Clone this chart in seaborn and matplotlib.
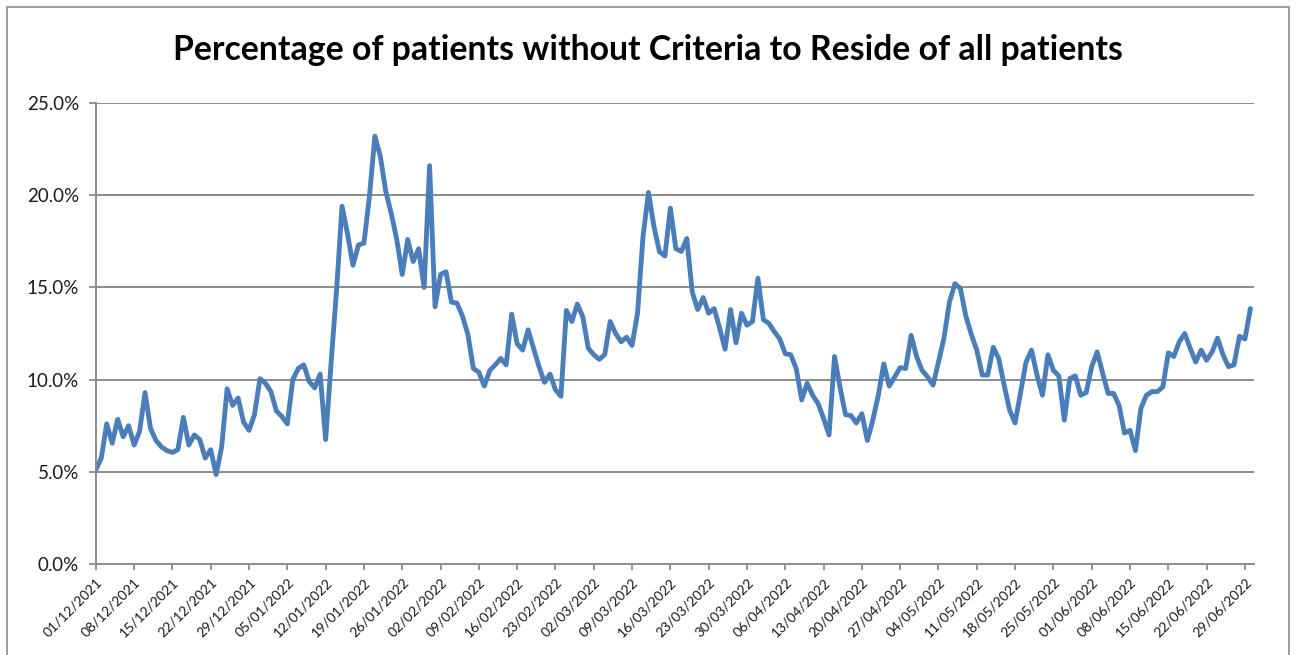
import numpy as np
import pandas as pd
import matplotlib
matplotlib.use("Agg")
import matplotlib.pyplot as plt
import matplotlib.dates as mdates
from matplotlib.patches import Rectangle
from matplotlib.ticker import PercentFormatter, MultipleLocator
import seaborn as sns

# daily % of patients without criteria to reside, 01/12/2021 onwards
start_date = "2021-12-01"
pct_no_ctr = [
    5.1, 5.75, 7.6, 6.55, 7.85, 6.9, 7.5, 6.45, 7.2, 9.3,
    7.35, 6.7, 6.35, 6.15, 6.05, 6.2, 7.95, 6.45, 7.0, 6.75,
    5.75, 6.2, 4.85, 6.35, 9.5, 8.6, 9.0, 7.7, 7.25, 8.1,
    10.05, 9.8, 9.35, 8.3, 8.0, 7.6, 10.0, 10.6, 10.8, 9.9,
    9.55, 10.3, 6.75, 10.9, 14.85, 19.4, 17.9, 16.2, 17.3, 17.4,
    19.9, 23.2, 22.1, 20.2, 19.0, 17.6, 15.7, 17.6, 16.4, 17.1,
    15.0, 21.6, 13.95, 15.7, 15.85, 14.2, 14.15, 13.45, 12.45, 10.6,
    10.4, 9.65, 10.5, 10.8, 11.15, 10.8, 13.55, 11.95, 11.6, 12.7,
    11.7, 10.7, 9.85, 10.3, 9.45, 9.1, 13.75, 13.15, 14.1, 13.4,
    11.7, 11.35, 11.1, 11.35, 13.15, 12.5, 12.05, 12.3, 11.85, 13.6,
    17.75, 20.15, 18.3, 16.95, 16.7, 19.3, 17.1, 16.95, 17.65, 14.75,
    13.8, 14.45, 13.6, 13.85, 12.8, 11.65, 13.8, 12.0, 13.6, 12.95,
    13.15, 15.5, 13.25, 13.05, 12.6, 12.2, 11.4, 11.35, 10.6, 8.9,
    9.8, 9.15, 8.7, 7.9, 7.0, 11.25, 9.6, 8.1, 8.05, 7.65,
    8.15, 6.7, 7.8, 9.15, 10.85, 9.65, 10.15, 10.65, 10.6, 12.4,
    11.25, 10.5, 10.15, 9.7, 10.95, 12.25, 14.2, 15.2, 14.95, 13.45,
    12.45, 11.6, 10.25, 10.25, 11.75, 11.15, 9.7, 8.35, 7.65, 9.3,
    10.95, 11.6, 10.25, 9.15, 11.35, 10.5, 10.2, 7.8, 10.05, 10.2,
    9.15, 9.3, 10.7, 11.5, 10.35, 9.25, 9.25, 8.6, 7.1, 7.25,
    6.15, 8.45, 9.15, 9.35, 9.35, 9.6, 11.45, 11.25, 12.05, 12.5,
    11.7, 10.95, 11.6, 11.05, 11.5, 12.25, 11.35, 10.7, 10.8, 12.35,
    12.2, 13.85,
]
tick_start, tick_end = "2021-12-01", "2022-06-29"
title = "Percentage of patients without Criteria to Reside of all patients"

dates = pd.date_range(start_date, periods=len(pct_no_ctr), freq="D")
df = pd.DataFrame({"date": dates, "pct": pct_no_ctr})
tick_dates = pd.date_range(tick_start, tick_end, freq="7D")

sns.set_style("white")
plt.rcParams["font.family"] = ["Lato", "DejaVu Sans"]

W, H = 1297, 655
fig = plt.figure(figsize=(W / 100, H / 100), dpi=100)
ax = fig.add_axes([95.8 / W, 1 - 564 / H, (1254 - 95.8) / W, (564 - 103) / H])

sns.lineplot(data=df, x="date", y="pct", ax=ax, color="#4a7ebb", linewidth=3.5)

x0 = mdates.date2num(dates[0])
ax.set_xlim(x0, x0 + 211.66)
ax.set_ylim(0, 25)
ax.yaxis.set_major_locator(MultipleLocator(5))
ax.yaxis.set_major_formatter(PercentFormatter(xmax=100, decimals=1))
ax.yaxis.grid(True, color="#8c8c8c", linewidth=1.4)
ax.set_axisbelow(True)

ax.set_xticks(tick_dates)
ax.set_xticklabels([d.strftime("%d/%m/%Y") for d in tick_dates],
                   rotation=45, ha="right", rotation_mode="anchor")
ax.set_xlabel("")
ax.set_ylabel("")

for side in ["top", "right"]:
    ax.spines[side].set_visible(False)
for side in ["left", "bottom"]:
    ax.spines[side].set_color("#8c8c8c")
    ax.spines[side].set_linewidth(1.4)

ax.tick_params(axis="y", direction="out", length=5, width=1.3, color="#8c8c8c",
               labelsize=13.5, pad=7, left=True, labelcolor="#1a1a1a")
ax.tick_params(axis="x", direction="out", length=4.5, width=1.3, color="#8c8c8c",
               labelsize=10, pad=4, bottom=True, labelcolor="#1a1a1a")

fig.text(648 / W, 1 - 50 / H, title, ha="center", va="center",
         fontsize=24.3, fontweight="bold", color="black")

fig.patches.append(Rectangle((7 / W, -0.1), (1289 - 7) / W, 1.1 - 7 / H,
                             transform=fig.transFigure, fill=False,
                             edgecolor="#8c8c8c", linewidth=1.2))

fig.savefig("out.png", dpi=100)
